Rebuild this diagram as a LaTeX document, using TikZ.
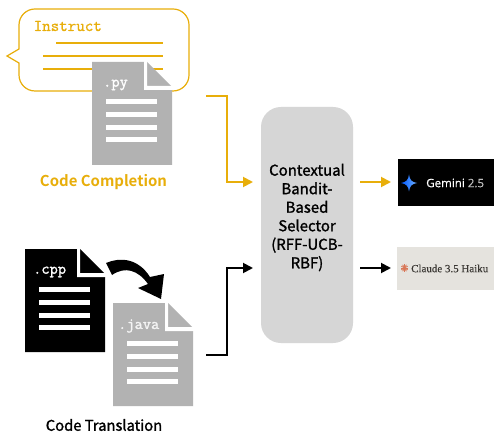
\documentclass[tikz,border=0pt]{standalone}
\usepackage{fontspec}
\usetikzlibrary{arrows.meta}
\newfontfamily\labfont[FakeBold=1.4]{Noto Sans CJK JP}
\newfontfamily\boldlab{Noto Sans CJK JP Bold}
\newfontfamily\codefont[FakeBold=1.6]{Latin Modern Mono}
\newfontfamily\instfont[FakeBold=0.9]{Latin Modern Mono}
\newfontfamily\gemfont[FakeBold=0.3]{Open Sans}
\newfontfamily\clafont[FakeBold=0.2]{Liberation Serif}
\definecolor{goldc}{HTML}{E8AE0A}
\definecolor{docgray}{HTML}{B2B2B2}
\definecolor{boxgray}{HTML}{D6D6D6}
\definecolor{clabg}{HTML}{E5E3DE}
\definecolor{clatx}{HTML}{3A3733}
\definecolor{claor}{HTML}{D97757}
\tikzset{
  conn/.style={line width=1.9pt,-{Triangle[length=10bp,width=10bp]}},
  linebar/.style={line width=1.3pt,goldc},
  doctext/.style={font=\codefont\fontsize{16}{16}\selectfont,anchor=west,inner sep=0pt},
  captext/.style={inner sep=0pt,anchor=center}
}
% #1 top-left x, #2 top-left y, #3 colour, #4 label colour, #5 label, #6 node name, #7 label dx
\newcommand{\docicon}[7]{%
  \begin{scope}[shift={(#1,#2)}]
    \path[fill=#3] (0,0) -- (52,0) -- (52,28) -- (80,28) -- (80,103) -- (0,103) -- cycle;
    \path[fill=#3] (55,0) -- (79,24) -- (55,24) -- cycle;
    \path[fill=white] (52,0) -- (55,0) -- (55,24) -- (80,24) -- (80,28) -- (52,28) -- cycle;
    \foreach \yy in {40,53,66,78}
      \path[fill=white] (14,\yy-2.5) rectangle (65,\yy+2.5);
    \node[doctext,text=#4] (#6) at (#7,23) {#5};
  \end{scope}}
\begin{document}
\begin{tikzpicture}[x=1bp,y=-1bp]
\useasboundingbox (0,0) rectangle (494,435);
\path[fill=white] (0,0) rectangle (494,435);
% speech bubble
\draw[goldc,line width=1.2pt,fill=white,line join=miter,rounded corners=16bp]
  (100,9) -- (189,9) -- (189,91) -- (19,91)
  [rounded corners=0pt] -- (19,63) -- (7,56) -- (19,49)
  [rounded corners=16bp] -- (19,9) -- cycle;
\node[font=\instfont\fontsize{16.6}{16}\selectfont,text=goldc,anchor=west,inner sep=0pt] (instruct) at (33.5,26) {Instruct};
\draw[linebar] (56,43) -- (163,43);
\draw[linebar] (43,56) -- (163,56);
\draw[linebar] (43,69) -- (163,69);
% documents
\docicon{92}{62}{docgray}{white}{.py}{pylabel}{11}
\docicon{25}{249}{black}{white}{.cpp}{cpplabel}{8}
\docicon{113}{303}{docgray}{white!85!docgray}{.java}{javalabel}{5}
% curved arrow
\path[fill=black] (106,263) .. controls (120,257) and (138,258) .. (150,277)
  -- (164,274) -- (161,299) -- (138,288) -- (148,284)
  .. controls (138,270) and (125,266) .. (112,275) -- cycle;
% captions
\node[captext,font=\boldlab\fontsize{15}{16}\selectfont,text=goldc] (cc) at (103.5,182.5) {Code Completion};
\node[captext,font=\labfont\fontsize{14.8}{16}\selectfont,text=black] (ct) at (104,425) {Code Translation};
% selector
\node[draw=none,fill=boxgray,rounded corners=20bp,minimum width=92bp,minimum height=236bp,inner sep=0pt] (sel) at (307,225) {};
\node[align=center,inner sep=0pt,font=\labfont\fontsize{15}{18.6}\selectfont] (seltext) at (307,217.5)
  {Contextual\\Bandit-\\Based\\Selector\\(RFF-UCB-\\RBF)};
% model boxes
\node[fill=black,minimum width=96bp,minimum height=47bp,inner sep=0pt] (gem) at (446,182.5) {};
\node[fill=clabg,minimum width=97bp,minimum height=43bp,inner sep=0pt] (cla) at (445.5,268.5) {};
% gemini star
\shade[left color=blue!65!cyan,right color=cyan!45!blue!55!white]
  (409,174.5) .. controls (409.8,180) and (411.5,182) .. (417,183)
  .. controls (411.5,184) and (409.8,186) .. (409,191.5)
  .. controls (408.2,186) and (406.5,184) .. (401,183)
  .. controls (406.5,182) and (408.2,180) .. (409,174.5) -- cycle;
\node[anchor=west,inner sep=0pt,text=white,font=\gemfont\fontsize{11.6}{12}\selectfont] (gemt) at (426,183) {Gemini {\color{white!75!black}2.5}};
% claude mark
\foreach \ang in {0,30,...,330}
  \draw[claor,line width=0.8pt] (404.5,268) -- ++(\ang:3.8);
\node[anchor=west,inner sep=0pt,text=clatx,font=\clafont\fontsize{11}{12}\selectfont] (clat) at (411,268.5) {Claude 3.5 Haiku};
% connectors
\coordinate (pyout) at (206,96);
\coordinate (pyin) at (253,182);
\coordinate (javaout) at (206,355);
\coordinate (javain) at (253,268);
\coordinate (gemfrom) at (360,182);
\coordinate (gemto) at (391,182);
\coordinate (clafrom) at (360,268);
\coordinate (clato) at (391,268);
\draw[conn,goldc] (pyout) -- (227,96) -- (227,182) -- (pyin);
\draw[conn,black] (javaout) -- (227,355) -- (227,268) -- (javain);
\draw[conn,goldc] (gemfrom) -- (gemto);
\draw[conn,black] (clafrom) -- (clato);
\end{tikzpicture}
\end{document}
